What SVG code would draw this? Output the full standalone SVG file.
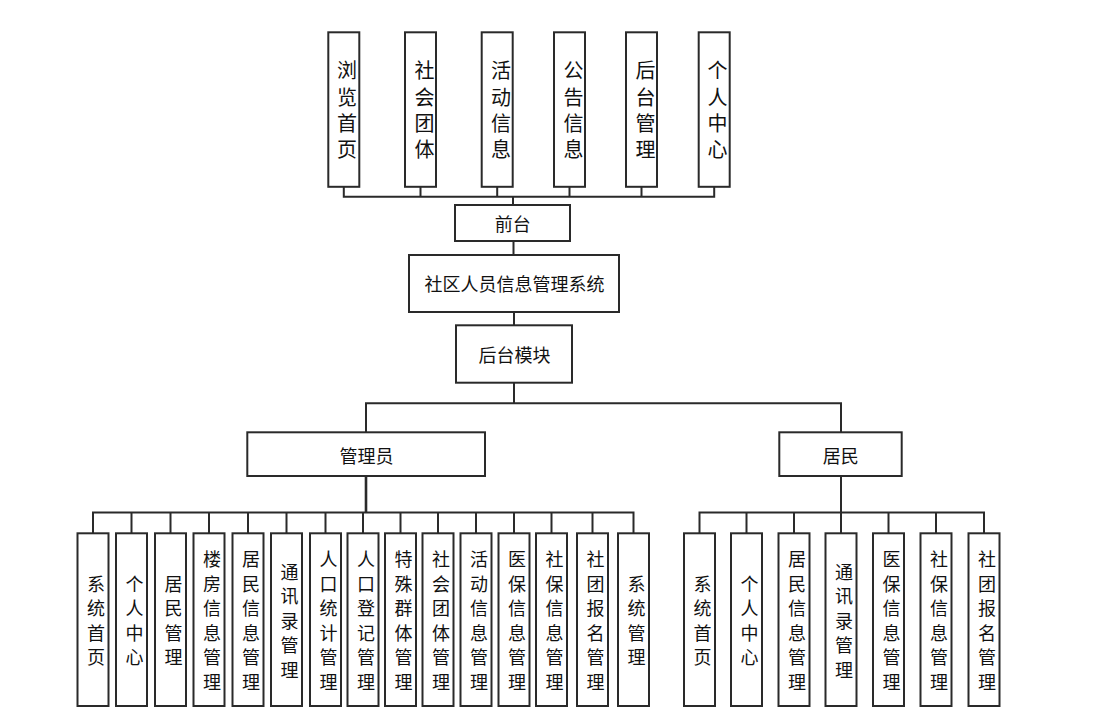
<svg xmlns="http://www.w3.org/2000/svg" width="1096" height="724" viewBox="0 0 1096 724">
<style>
.bg{fill:#fff}
.box{fill:#fff;stroke:#2a2a2a;stroke-width:2}
.ln{fill:none;stroke:#2a2a2a;stroke-width:2}
.thick{stroke-width:2.6}
.t{font-family:"Noto Sans CJK SC","Noto Sans",sans-serif;fill:#111;text-anchor:middle;dominant-baseline:central}
.h{font-size:18px}
.vt{font-size:20px}
.vb{font-size:18px}
</style>
<rect class="bg" x="0" y="0" width="1096" height="724"/>
<g id="connectors">
  <path class="ln" d="M343.8 187V196.7H714.2V187M420.5 187V196.7M497.2 187V196.7M569.5 187V196.7M641.5 187V196.7M513 196.7V205"/>
  <path class="ln" d="M513.5 241V255M514 312V325M514 383V403.3M366 432V403.3H841V432"/>
  <path class="ln thick" d="M366 476V512.5"/>
  <path class="ln" d="M93 533V512.5H633.5V533M131.5 512.5V533M170.5 512.5V533M209 512.5V533M248 512.5V533M286.5 512.5V533M325.5 512.5V533M363 512.5V533M400.5 512.5V533M438 512.5V533M476 512.5V533M514 512.5V533M551.5 512.5V533M592.5 512.5V533"/>
  <path class="ln" d="M841 476V512.5M699.5 533V512.5H984V533M746.5 512.5V533M794 512.5V533M841 512.5V533M888.5 512.5V533M936 512.5V533"/>
</g>
<g id="top-1"><rect class="box" x="328.3" y="32.3" width="31" height="154.5"/><text class="t vt"><tspan x="347" y="69.3">浏</tspan><tspan x="347" y="95.6">览</tspan><tspan x="347" y="121.9">首</tspan><tspan x="347" y="148.2">页</tspan></text></g>
<g id="top-2"><rect class="box" x="405" y="32.3" width="31" height="154.5"/><text class="t vt"><tspan x="424.5" y="69.3">社</tspan><tspan x="424.5" y="95.6">会</tspan><tspan x="424.5" y="121.9">团</tspan><tspan x="424.5" y="148.2">体</tspan></text></g>
<g id="top-3"><rect class="box" x="481.7" y="32.3" width="31" height="154.5"/><text class="t vt"><tspan x="501" y="69.3">活</tspan><tspan x="501" y="95.6">动</tspan><tspan x="501" y="121.9">信</tspan><tspan x="501" y="148.2">息</tspan></text></g>
<g id="top-4"><rect class="box" x="554" y="32.3" width="31" height="154.5"/><text class="t vt"><tspan x="573.5" y="69.3">公</tspan><tspan x="573.5" y="95.6">告</tspan><tspan x="573.5" y="121.9">信</tspan><tspan x="573.5" y="148.2">息</tspan></text></g>
<g id="top-5"><rect class="box" x="626" y="32.3" width="31" height="154.5"/><text class="t vt"><tspan x="645.5" y="69.3">后</tspan><tspan x="645.5" y="95.6">台</tspan><tspan x="645.5" y="121.9">管</tspan><tspan x="645.5" y="148.2">理</tspan></text></g>
<g id="top-6"><rect class="box" x="698.7" y="32.3" width="31" height="154.5"/><text class="t vt"><tspan x="717.5" y="69.3">个</tspan><tspan x="717.5" y="95.6">人</tspan><tspan x="717.5" y="121.9">中</tspan><tspan x="717.5" y="148.2">心</tspan></text></g>
<g id="qiantai"><rect class="box" x="455" y="205" width="115" height="36"/><text class="t h" x="512.7" y="223">前台</text></g>
<g id="system"><rect class="box" x="409" y="255" width="210" height="57"/><text class="t h" x="514.5" y="283.3">社区人员信息管理系统</text></g>
<g id="houtai"><rect class="box" x="456" y="325.3" width="116" height="57.4"/><text class="t h" x="514.5" y="354">后台模块</text></g>
<g id="admin"><rect class="box" x="247.3" y="432.3" width="237.7" height="43.7"/><text class="t h" x="366.5" y="454.5">管理员</text></g>
<g id="resident"><rect class="box" x="779.3" y="432.3" width="122.4" height="43.7"/><text class="t h" x="840.7" y="454.5">居民</text></g>
<g id="a1"><rect class="box" x="77.5" y="533.3" width="31" height="172.7"/><text class="t vb"><tspan x="96" y="582.75">系</tspan><tspan x="96" y="607.25">统</tspan><tspan x="96" y="631.75">首</tspan><tspan x="96" y="656.25">页</tspan></text></g>
<g id="a2"><rect class="box" x="116" y="533.3" width="31" height="172.7"/><text class="t vb"><tspan x="134.5" y="582.75">个</tspan><tspan x="134.5" y="607.25">人</tspan><tspan x="134.5" y="631.75">中</tspan><tspan x="134.5" y="656.25">心</tspan></text></g>
<g id="a3"><rect class="box" x="155" y="533.3" width="31" height="172.7"/><text class="t vb"><tspan x="173.5" y="582.75">居</tspan><tspan x="173.5" y="607.25">民</tspan><tspan x="173.5" y="631.75">管</tspan><tspan x="173.5" y="656.25">理</tspan></text></g>
<g id="a4"><rect class="box" x="193.5" y="533.3" width="31" height="172.7"/><text class="t vb"><tspan x="212" y="558.25">楼</tspan><tspan x="212" y="582.75">房</tspan><tspan x="212" y="607.25">信</tspan><tspan x="212" y="631.75">息</tspan><tspan x="212" y="656.25">管</tspan><tspan x="212" y="680.75">理</tspan></text></g>
<g id="a5"><rect class="box" x="232.5" y="533.3" width="31" height="172.7"/><text class="t vb"><tspan x="251" y="558.25">居</tspan><tspan x="251" y="582.75">民</tspan><tspan x="251" y="607.25">信</tspan><tspan x="251" y="631.75">息</tspan><tspan x="251" y="656.25">管</tspan><tspan x="251" y="680.75">理</tspan></text></g>
<g id="a6"><rect class="box" x="271" y="533.3" width="31" height="172.7"/><text class="t vb"><tspan x="289.5" y="570.5">通</tspan><tspan x="289.5" y="595">讯</tspan><tspan x="289.5" y="619.5">录</tspan><tspan x="289.5" y="644">管</tspan><tspan x="289.5" y="668.5">理</tspan></text></g>
<g id="a7"><rect class="box" x="310" y="533.3" width="31" height="172.7"/><text class="t vb"><tspan x="328.5" y="558.25">人</tspan><tspan x="328.5" y="582.75">口</tspan><tspan x="328.5" y="607.25">统</tspan><tspan x="328.5" y="631.75">计</tspan><tspan x="328.5" y="656.25">管</tspan><tspan x="328.5" y="680.75">理</tspan></text></g>
<g id="a8"><rect class="box" x="347.5" y="533.3" width="31" height="172.7"/><text class="t vb"><tspan x="366" y="558.25">人</tspan><tspan x="366" y="582.75">口</tspan><tspan x="366" y="607.25">登</tspan><tspan x="366" y="631.75">记</tspan><tspan x="366" y="656.25">管</tspan><tspan x="366" y="680.75">理</tspan></text></g>
<g id="a9"><rect class="box" x="385" y="533.3" width="31" height="172.7"/><text class="t vb"><tspan x="403.5" y="558.25">特</tspan><tspan x="403.5" y="582.75">殊</tspan><tspan x="403.5" y="607.25">群</tspan><tspan x="403.5" y="631.75">体</tspan><tspan x="403.5" y="656.25">管</tspan><tspan x="403.5" y="680.75">理</tspan></text></g>
<g id="a10"><rect class="box" x="422.5" y="533.3" width="31" height="172.7"/><text class="t vb"><tspan x="441" y="558.25">社</tspan><tspan x="441" y="582.75">会</tspan><tspan x="441" y="607.25">团</tspan><tspan x="441" y="631.75">体</tspan><tspan x="441" y="656.25">管</tspan><tspan x="441" y="680.75">理</tspan></text></g>
<g id="a11"><rect class="box" x="460.5" y="533.3" width="31" height="172.7"/><text class="t vb"><tspan x="479" y="558.25">活</tspan><tspan x="479" y="582.75">动</tspan><tspan x="479" y="607.25">信</tspan><tspan x="479" y="631.75">息</tspan><tspan x="479" y="656.25">管</tspan><tspan x="479" y="680.75">理</tspan></text></g>
<g id="a12"><rect class="box" x="498.5" y="533.3" width="31" height="172.7"/><text class="t vb"><tspan x="517" y="558.25">医</tspan><tspan x="517" y="582.75">保</tspan><tspan x="517" y="607.25">信</tspan><tspan x="517" y="631.75">息</tspan><tspan x="517" y="656.25">管</tspan><tspan x="517" y="680.75">理</tspan></text></g>
<g id="a13"><rect class="box" x="536" y="533.3" width="31" height="172.7"/><text class="t vb"><tspan x="554.5" y="558.25">社</tspan><tspan x="554.5" y="582.75">保</tspan><tspan x="554.5" y="607.25">信</tspan><tspan x="554.5" y="631.75">息</tspan><tspan x="554.5" y="656.25">管</tspan><tspan x="554.5" y="680.75">理</tspan></text></g>
<g id="a14"><rect class="box" x="577" y="533.3" width="31" height="172.7"/><text class="t vb"><tspan x="595.5" y="558.25">社</tspan><tspan x="595.5" y="582.75">团</tspan><tspan x="595.5" y="607.25">报</tspan><tspan x="595.5" y="631.75">名</tspan><tspan x="595.5" y="656.25">管</tspan><tspan x="595.5" y="680.75">理</tspan></text></g>
<g id="a15"><rect class="box" x="618" y="533.3" width="31" height="172.7"/><text class="t vb"><tspan x="636.5" y="582.75">系</tspan><tspan x="636.5" y="607.25">统</tspan><tspan x="636.5" y="631.75">管</tspan><tspan x="636.5" y="656.25">理</tspan></text></g>
<g id="r1"><rect class="box" x="684" y="533.3" width="31" height="172.7"/><text class="t vb"><tspan x="702.5" y="582.75">系</tspan><tspan x="702.5" y="607.25">统</tspan><tspan x="702.5" y="631.75">首</tspan><tspan x="702.5" y="656.25">页</tspan></text></g>
<g id="r2"><rect class="box" x="731" y="533.3" width="31" height="172.7"/><text class="t vb"><tspan x="749.5" y="582.75">个</tspan><tspan x="749.5" y="607.25">人</tspan><tspan x="749.5" y="631.75">中</tspan><tspan x="749.5" y="656.25">心</tspan></text></g>
<g id="r3"><rect class="box" x="778.5" y="533.3" width="31" height="172.7"/><text class="t vb"><tspan x="797" y="558.25">居</tspan><tspan x="797" y="582.75">民</tspan><tspan x="797" y="607.25">信</tspan><tspan x="797" y="631.75">息</tspan><tspan x="797" y="656.25">管</tspan><tspan x="797" y="680.75">理</tspan></text></g>
<g id="r4"><rect class="box" x="825.5" y="533.3" width="31" height="172.7"/><text class="t vb"><tspan x="844" y="570.5">通</tspan><tspan x="844" y="595">讯</tspan><tspan x="844" y="619.5">录</tspan><tspan x="844" y="644">管</tspan><tspan x="844" y="668.5">理</tspan></text></g>
<g id="r5"><rect class="box" x="873" y="533.3" width="31" height="172.7"/><text class="t vb"><tspan x="891.5" y="558.25">医</tspan><tspan x="891.5" y="582.75">保</tspan><tspan x="891.5" y="607.25">信</tspan><tspan x="891.5" y="631.75">息</tspan><tspan x="891.5" y="656.25">管</tspan><tspan x="891.5" y="680.75">理</tspan></text></g>
<g id="r6"><rect class="box" x="920.5" y="533.3" width="31" height="172.7"/><text class="t vb"><tspan x="939" y="558.25">社</tspan><tspan x="939" y="582.75">保</tspan><tspan x="939" y="607.25">信</tspan><tspan x="939" y="631.75">息</tspan><tspan x="939" y="656.25">管</tspan><tspan x="939" y="680.75">理</tspan></text></g>
<g id="r7"><rect class="box" x="968.5" y="533.3" width="31" height="172.7"/><text class="t vb"><tspan x="987" y="558.25">社</tspan><tspan x="987" y="582.75">团</tspan><tspan x="987" y="607.25">报</tspan><tspan x="987" y="631.75">名</tspan><tspan x="987" y="656.25">管</tspan><tspan x="987" y="680.75">理</tspan></text></g>
</svg>
